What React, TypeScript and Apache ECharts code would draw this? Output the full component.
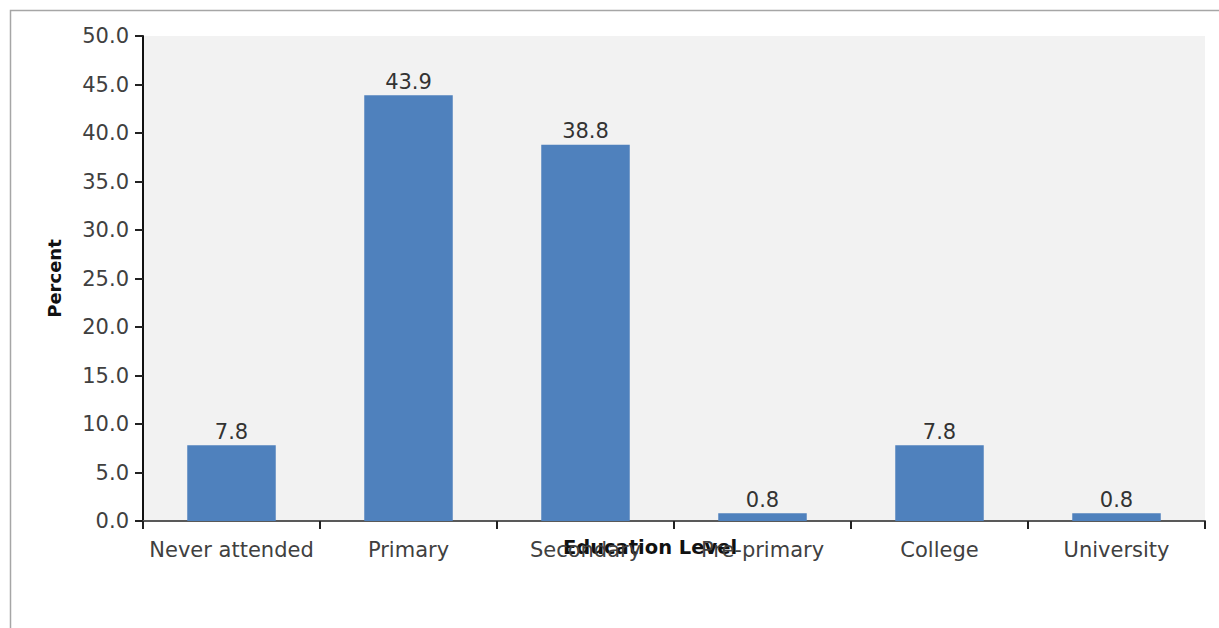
import React, { useEffect, useRef } from "react";
import * as echarts from "echarts";

const categories = ["Never attended", "Primary", "Secondary", "Pre-primary", "College", "University"];
const percentValues = [7.8, 43.9, 38.8, 0.8, 7.8, 0.8];
const yTicks = { min: 0, max: 50, interval: 5 };

export default function App() {
  const ref = useRef<HTMLDivElement>(null);
  useEffect(() => {
    if (!ref.current) return;
    const chart = echarts.init(ref.current, null, { renderer: "svg" });
    const font = "DejaVu Sans";
    chart.setOption({
      animation: false,
      textStyle: { fontFamily: font },
      graphic: [
        {
          type: "rect",
          shape: { x: 10.5, y: 10.5, width: 1300, height: 700 },
          style: { fill: "none", stroke: "#a6a6a6", lineWidth: 1.5 },
          silent: true,
        },
      ],
      grid: { left: 143, top: 36, right: 14, bottom: 107, backgroundColor: "#f2f2f2", show: true, borderWidth: 0 },
      xAxis: {
        type: "category",
        data: categories,
        name: "Education Level",
        nameLocation: "middle",
        nameGap: 16,
        nameMoveOverlap: false,
        nameTextStyle: { fontFamily: font, fontWeight: "bold", fontSize: 19.5, color: "#111", verticalAlign: "top", padding: [0, 48, 0, 0] },
        axisLine: { lineStyle: { color: "#595959", width: 2 } },
        axisTick: { show: true, length: 8, inside: false, alignWithLabel: false, lineStyle: { color: "#222", width: 2 } },
        axisLabel: { fontFamily: font, fontSize: 21, color: "#404040", margin: 18, interval: 0 },
      },
      yAxis: {
        type: "value",
        min: yTicks.min,
        max: yTicks.max,
        interval: yTicks.interval,
        name: "Percent",
        nameLocation: "middle",
        nameGap: 80,
        nameTextStyle: { fontFamily: font, fontWeight: "bold", fontSize: 18, color: "#111" },
        axisLine: { show: true, lineStyle: { color: "#111", width: 2 } },
        axisTick: { show: true, length: 8, lineStyle: { color: "#222", width: 2 } },
        axisLabel: { fontFamily: font, fontSize: 21, color: "#404040", margin: 14, formatter: (v: number) => v.toFixed(1) },
        splitLine: { show: false },
      },
      series: [
        {
          type: "bar",
          data: percentValues,
          barWidth: "50%",
          itemStyle: { color: "#4f81bd" },
          label: { show: true, position: "top", distance: 3, fontFamily: font, fontSize: 21, color: "#333", formatter: (p: any) => p.value.toFixed(1) },
        },
      ],
    });
    return () => chart.dispose();
  }, []);
  return <div ref={ref} style={{ position: "absolute", left: 0, top: 0, width: 1219, height: 628 }} />;
}
